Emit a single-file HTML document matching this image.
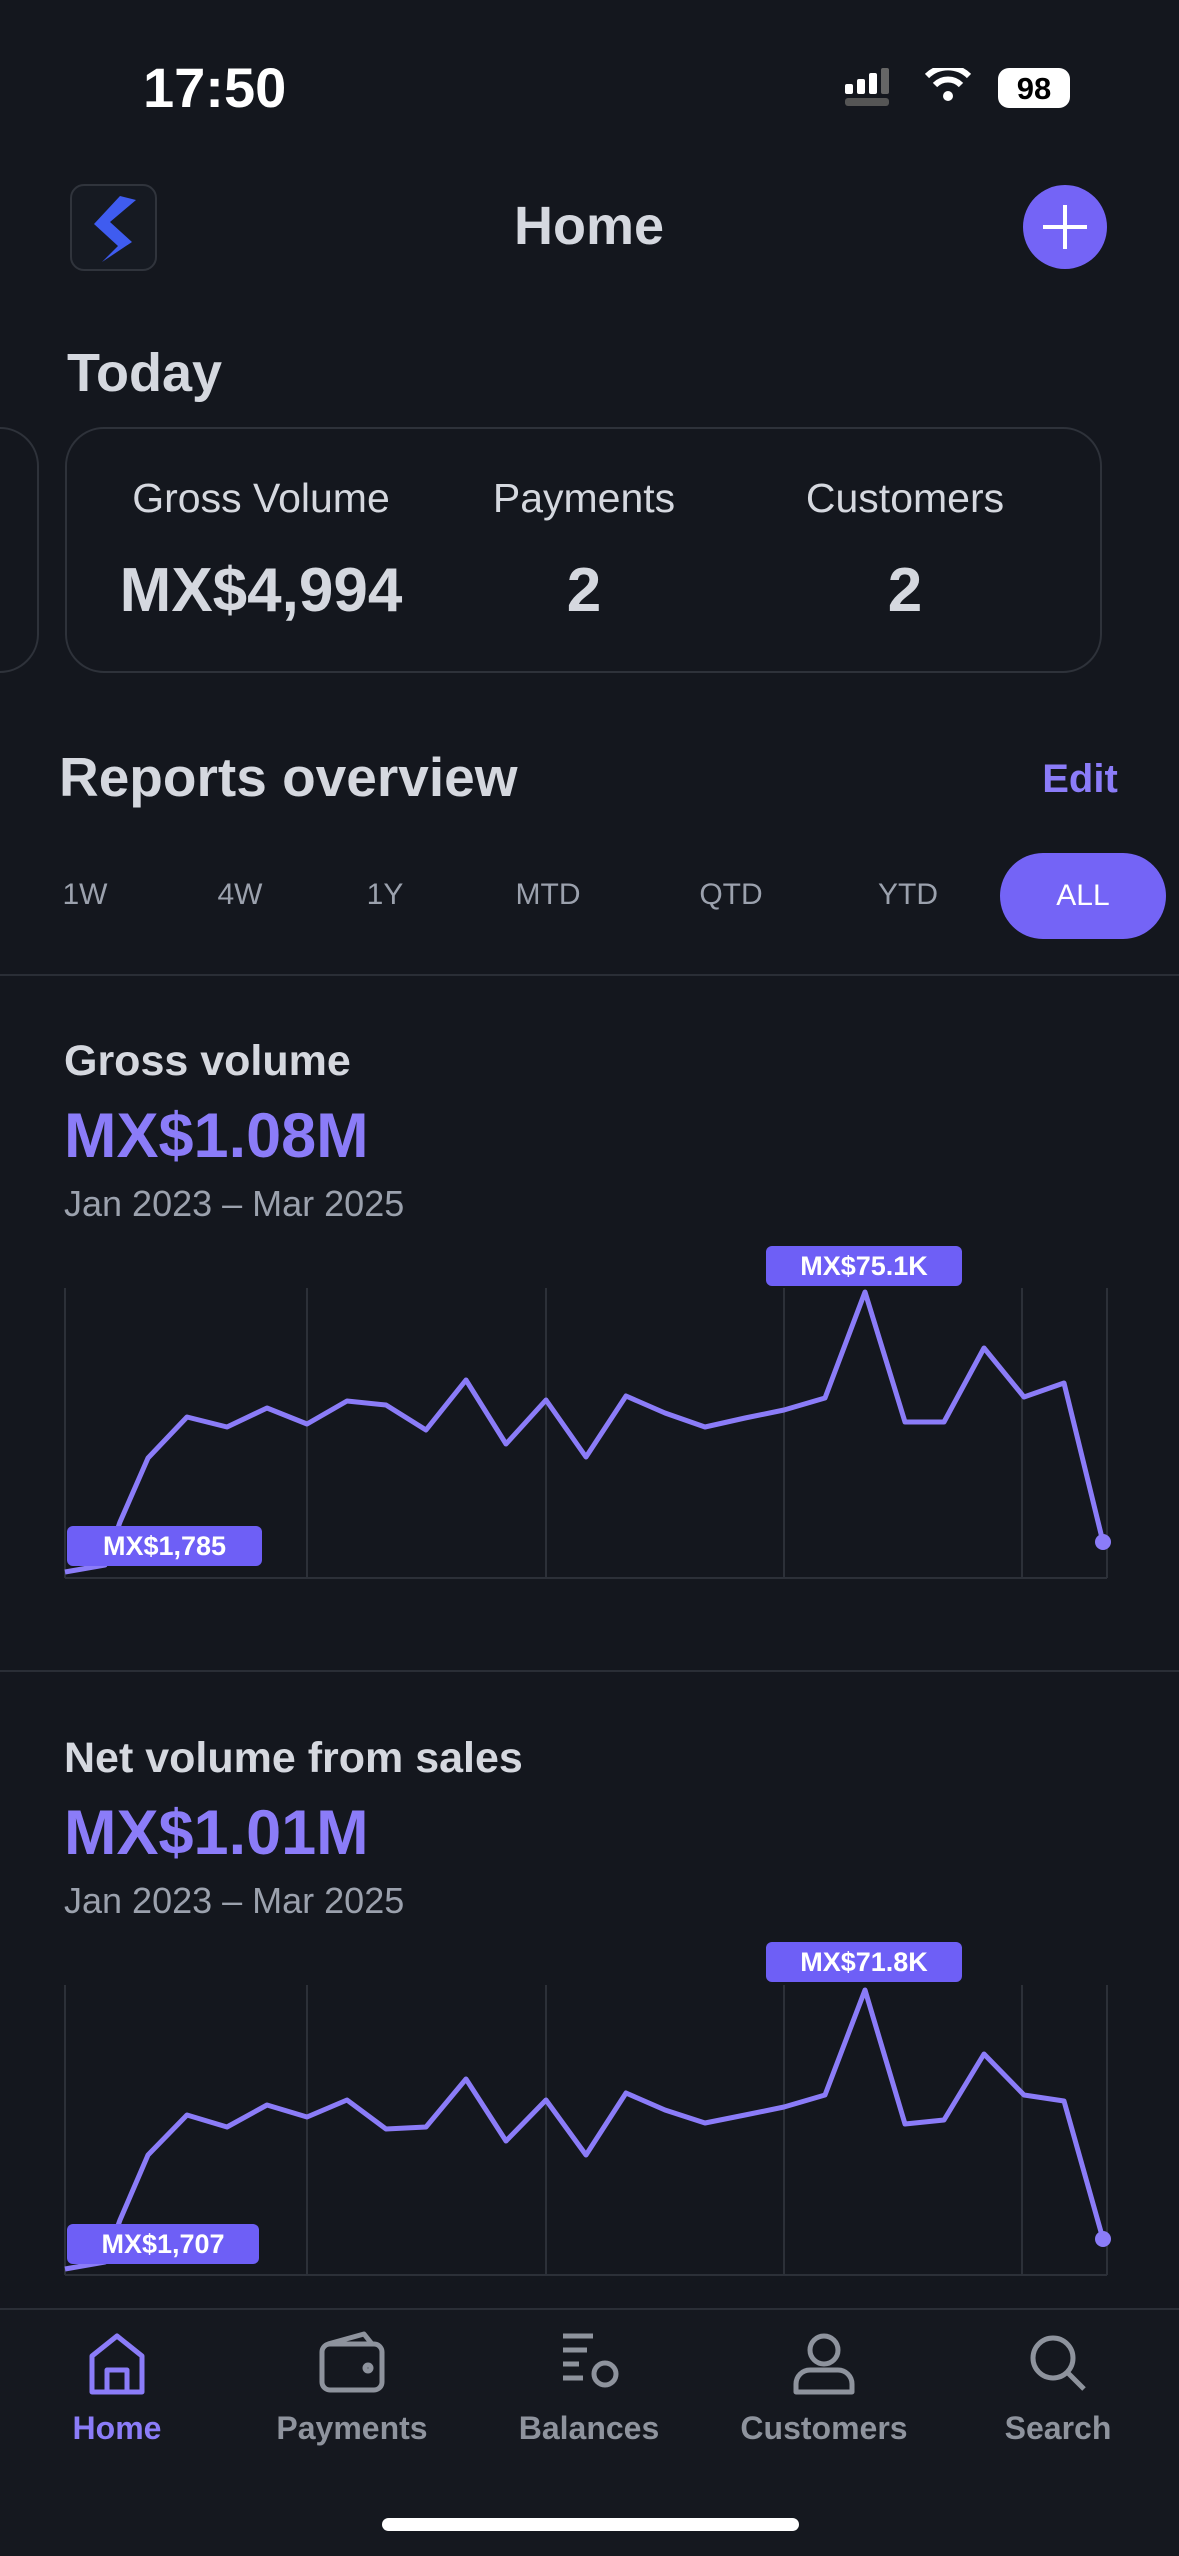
<!DOCTYPE html><html><head><meta charset="utf-8"><style>
*{margin:0;padding:0;box-sizing:border-box}
body{width:1179px;height:2556px;background:#14171e;font-family:"Liberation Sans",sans-serif;color:#d5d8df;position:relative;overflow:hidden}
.a{position:absolute;white-space:nowrap}
.c{transform:translateX(-50%)}
.b{font-weight:bold}
.tab{position:absolute;top:878px;font-size:30px;color:#9ba1ad;transform:translateX(-50%)}
.lab{position:absolute;background:#6e5ff6;color:#fff;font-weight:bold;font-size:27px;border-radius:6px;text-align:center;line-height:40px;height:40px}
.nav{position:absolute;top:2410px;font-size:32px;font-weight:bold;color:#8e939d;transform:translateX(-50%)}
</style></head><body>
<div class="a b" style="left:143px;top:55px;font-size:56px;color:#fff">17:50</div>
<svg class="a" style="left:845px;top:68px" width="230" height="44">
<rect x="0" y="16" width="8" height="10" rx="2" fill="#fff"/><rect x="12" y="11" width="8" height="15" rx="2" fill="#fff"/><rect x="24" y="5" width="8" height="21" rx="2" fill="#fff"/><rect x="36" y="0" width="8" height="26" rx="2" fill="#666"/>
<rect x="0" y="30" width="44" height="8" rx="3" fill="#555"/>
<path d="M82 8 a30 30 0 0 1 42 0" stroke="#fff" stroke-width="6" fill="none"/><path d="M90 17 a18 18 0 0 1 26 0" stroke="#fff" stroke-width="6" fill="none"/><circle cx="103" cy="28" r="5" fill="#fff"/>
<rect x="153" y="0" width="72" height="40" rx="11" fill="#fff"/><text x="189" y="31" font-size="31" font-weight="bold" text-anchor="middle" font-family="Liberation Sans">98</text>
</svg>
<div class="a" style="left:70px;top:184px;width:87px;height:87px;border:2px solid #30343c;border-radius:14px;background:#161a22"></div>
<svg class="a" style="left:80px;top:190px" width="66" height="76"><path d="M40 6 L14 34 L38 56 L22 72 L52 52 L30 32 L56 10Z" fill="#3f5cf0"/></svg>
<div class="a b c" style="left:589px;top:195px;font-size:54px">Home</div>
<div class="a" style="left:1023px;top:185px;width:84px;height:84px;border-radius:50%;background:#7464f6"></div>
<div class="a" style="left:1043px;top:225px;width:44px;height:4px;background:#fff"></div>
<div class="a" style="left:1063px;top:205px;width:4px;height:44px;background:#fff"></div>
<div class="a b" style="left:67px;top:342px;font-size:54px">Today</div>
<div class="a" style="left:-100px;top:427px;width:139px;height:246px;border:2px solid #2e323a;border-radius:39px"></div>
<div class="a" style="left:65px;top:427px;width:1037px;height:246px;border:2px solid #2e323a;border-radius:39px"></div>
<div class="a c" style="left:261px;top:475px;font-size:41px">Gross Volume</div>
<div class="a c" style="left:584px;top:475px;font-size:41px">Payments</div>
<div class="a c" style="left:905px;top:475px;font-size:41px">Customers</div>
<div class="a b c" style="left:261px;top:555px;font-size:62px">MX$4,994</div>
<div class="a b c" style="left:584px;top:555px;font-size:62px">2</div>
<div class="a b c" style="left:905px;top:555px;font-size:62px">2</div>
<div class="a b" style="left:59px;top:745px;font-size:55px">Reports overview</div>
<div class="a b c" style="left:1080px;top:757px;font-size:40px;color:#8b7cf8">Edit</div>
<div class="tab" style="left:85px">1W</div><div class="tab" style="left:240px">4W</div><div class="tab" style="left:385px">1Y</div><div class="tab" style="left:548px">MTD</div><div class="tab" style="left:731px">QTD</div><div class="tab" style="left:908px">YTD</div>
<div class="a" style="left:1000px;top:853px;width:166px;height:86px;border-radius:43px;background:#7464f6;color:#fff;font-size:30px;text-align:center;line-height:86px">ALL</div>
<div class="a" style="left:0;top:974px;width:1179px;height:2px;background:#2a2e36"></div>
<div class="a b" style="left:64px;top:1037px;font-size:43px">Gross volume</div>
<div class="a b" style="left:64px;top:1100px;font-size:63px;color:#8b7cf8">MX$1.08M</div>
<div class="a" style="left:64px;top:1183px;font-size:36px;color:#9ba1ad">Jan 2023 – Mar 2025</div>
<svg class="a" style="left:0;top:0" width="1179" height="2300">
<g stroke="#2c3038" stroke-width="2"><line x1="65" y1="1288" x2="65" y2="1578"/><line x1="307" y1="1288" x2="307" y2="1578"/><line x1="546" y1="1288" x2="546" y2="1578"/><line x1="784" y1="1288" x2="784" y2="1578"/><line x1="1022" y1="1288" x2="1022" y2="1578"/><line x1="1107" y1="1288" x2="1107" y2="1578"/><line x1="65" y1="1578" x2="1107" y2="1578"/>
<line x1="65" y1="1985" x2="65" y2="2275"/><line x1="307" y1="1985" x2="307" y2="2275"/><line x1="546" y1="1985" x2="546" y2="2275"/><line x1="784" y1="1985" x2="784" y2="2275"/><line x1="1022" y1="1985" x2="1022" y2="2275"/><line x1="1107" y1="1985" x2="1107" y2="2275"/><line x1="65" y1="2275" x2="1107" y2="2275"/></g>
<polyline fill="none" stroke="#8b7cf8" stroke-width="5" stroke-linejoin="round" points="65,1572 105,1565 120,1522 148,1458 187,1417 227,1427 267,1408 307,1424 347,1401 386,1405 426,1430 466,1380 506,1444 546,1400 586,1457 626,1396 665,1413 705,1427 745,1418 784,1410 825,1398 865,1292 905,1422 944,1422 984,1348 1024,1397 1064,1383 1103,1542"/>
<circle cx="1103" cy="1542" r="8" fill="#8b7cf8"/>
<polyline fill="none" stroke="#8b7cf8" stroke-width="5" stroke-linejoin="round" points="65,2269 105,2262 120,2220 148,2155 187,2115 227,2127 267,2105 307,2117 347,2100 386,2129 426,2127 466,2079 506,2141 546,2100 586,2155 626,2093 665,2110 705,2123 745,2115 784,2107 825,2095 865,1990 905,2124 944,2120 984,2054 1024,2095 1064,2101 1103,2239"/>
<circle cx="1103" cy="2239" r="8" fill="#8b7cf8"/>
</svg>
<div class="lab" style="left:67px;top:1526px;width:195px">MX$1,785</div>
<div class="lab" style="left:766px;top:1246px;width:196px">MX$75.1K</div>
<div class="a" style="left:0;top:1670px;width:1179px;height:2px;background:#2a2e36"></div>
<div class="a b" style="left:64px;top:1734px;font-size:43px">Net volume from sales</div>
<div class="a b" style="left:64px;top:1797px;font-size:63px;color:#8b7cf8">MX$1.01M</div>
<div class="a" style="left:64px;top:1880px;font-size:36px;color:#9ba1ad">Jan 2023 – Mar 2025</div>
<div class="lab" style="left:67px;top:2224px;width:192px">MX$1,707</div>
<div class="lab" style="left:766px;top:1942px;width:196px">MX$71.8K</div>
<div class="a" style="left:0;top:2308px;width:1179px;height:248px;background:#15181f;border-top:2px solid #2a2e36"></div>
<svg class="a" style="left:0;top:2330px" width="1179" height="70" fill="none" stroke-width="5" stroke-linejoin="round">
<path d="M92 62 V26 L117 6 L142 26 V62Z M107 62 V40 h20 v22" stroke="#8b7cf8"/>
<g stroke="#8e939d"><rect x="322" y="14" width="60" height="46" rx="8"/><path d="M328 14 L364 4 L372 14"/><circle cx="368" cy="38" r="3"/>
<path d="M563 6 h30 M563 20 h24 M563 34 h16 M563 48 h20"/><circle cx="605" cy="44" r="11"/>
<circle cx="824" cy="20" r="14"/><path d="M796 62 v-8 a14 14 0 0 1 14 -14 h28 a14 14 0 0 1 14 14 v8Z"/>
<circle cx="1053" cy="28" r="20"/><path d="M1068 43 L1084 59"/></g></svg>
<div class="nav" style="left:117px;color:#8b7cf8">Home</div>
<div class="nav" style="left:352px">Payments</div>
<div class="nav" style="left:589px">Balances</div>
<div class="nav" style="left:824px">Customers</div>
<div class="nav" style="left:1058px">Search</div>
<div class="a" style="left:382px;top:2518px;width:417px;height:13px;border-radius:7px;background:#fff"></div>
</body></html>
